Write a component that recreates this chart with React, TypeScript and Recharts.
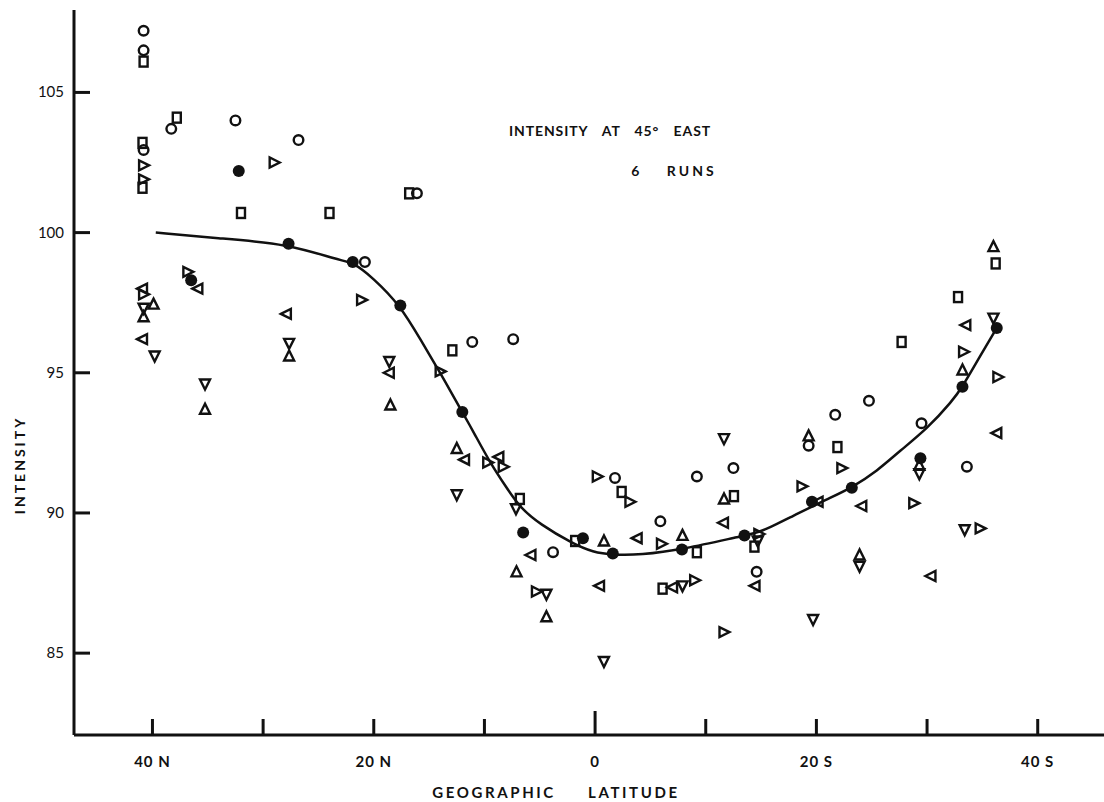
import React from "react";
import { ComposedChart, Scatter, Line, XAxis, YAxis } from "recharts";

// latitude: north negative, south positive
const latTicks = [-40, -30, -20, -10, 0, 10, 20, 30, 40];
const latLabels: Record<number, string> = { [-40]: "40 N", [-20]: "20 N", 0: "0", 20: "20 S", 40: "40 S" };
const intensityTicks = [85, 90, 95, 100, 105];

// fitted curve
const curveLat = [-39.7, -34.2, -27.7, -23.1, -21.9, -20.1, -17.6, -15.8, -14.0, -12.0, -11.0, -9.5, -8.0, -6.8, -5.0, -2.0, -0.2, 1.6, 4.1, 7.9, 13.5, 14.9, 17.9, 21.0, 23.2, 25.5, 27.5, 30.0, 32.3, 33.2, 34.8, 36.3];
const curveVal = [100.0, 99.8, 99.6, 99.0, 98.95, 98.4, 97.4, 96.2, 95.0, 93.6, 92.9, 91.8, 90.9, 90.2, 89.6, 88.9, 88.6, 88.5, 88.5, 88.7, 89.2, 89.3, 89.9, 90.5, 90.9, 91.5, 92.2, 93.0, 94.0, 94.5, 95.6, 96.6];

// mean of the 6 runs
const meanLat = [-36.5, -32.2, -27.7, -21.9, -17.6, -12.0, -6.5, -1.1, 1.6, 7.85, 13.5, 19.6, 23.2, 29.4, 33.2, 36.3];
const meanVal = [98.3, 102.2, 99.6, 98.95, 97.4, 93.6, 89.3, 89.1, 88.55, 88.7, 89.2, 90.4, 90.9, 91.95, 94.5, 96.6];

// run 1 (circles)
const circleLat = [-40.8, -40.8, -38.3, -32.5, -26.8, -40.8, -20.8, -16.1, -11.1, -7.4, -3.8, 1.8, 5.9, 9.2, 12.5, 14.6, 19.3, 21.7, 24.75, 29.5, 33.6];
const circleVal = [107.2, 106.5, 103.7, 104.0, 103.3, 102.95, 98.95, 101.4, 96.1, 96.2, 88.6, 91.25, 89.7, 91.3, 91.6, 87.9, 92.4, 93.5, 94.0, 93.2, 91.65];

// run 2 (squares)
const squareLat = [-40.8, -37.8, -40.9, -40.9, -32.0, -24.0, -16.8, -12.9, -6.8, -1.8, 2.4, 6.1, 9.2, 12.55, 14.4, 21.9, 27.7, 32.8, 36.2];
const squareVal = [106.1, 104.1, 103.2, 101.6, 100.7, 100.7, 101.4, 95.8, 90.5, 89.0, 90.75, 87.3, 88.6, 90.6, 88.8, 92.35, 96.1, 97.7, 98.9];

// run 3 (up triangles)
const upLat = [-39.9, -40.8, -35.25, -27.65, -18.5, -12.5, -7.1, -4.4, 0.8, 7.9, 11.65, 19.3, 23.9, 29.3, 33.2, 36.0];
const upVal = [97.45, 97.0, 93.7, 95.6, 93.85, 92.3, 87.9, 86.3, 89.0, 89.2, 90.5, 92.75, 88.5, 91.7, 95.1, 99.5];

// run 4 (down triangles)
const downLat = [-40.8, -39.8, -35.25, -27.65, -18.6, -12.5, -7.15, -4.4, 0.8, 7.9, 11.65, 14.7, 19.7, 23.9, 29.3, 33.4, 36.0];
const downVal = [97.3, 95.6, 94.6, 96.05, 95.4, 90.65, 90.15, 87.1, 84.7, 87.4, 92.65, 89.0, 86.2, 88.1, 91.4, 89.4, 96.95];

// run 5 (left triangles)
const leftLat = [-40.9, -40.9, -35.9, -27.9, -18.6, -11.8, -8.7, -5.8, 0.4, 3.8, 7.0, 11.6, 14.45, 20.15, 24.1, 30.35, 33.5, 36.3];
const leftVal = [98.0, 96.2, 98.0, 97.1, 95.0, 91.9, 92.0, 88.5, 87.4, 89.1, 87.35, 89.65, 87.4, 90.4, 90.25, 87.75, 96.7, 92.85];

// run 6 (right triangles)
const rightLat = [-40.8, -40.8, -40.8, -36.8, -29.0, -21.1, -14.0, -9.7, -8.3, -5.3, 0.2, 3.15, 6.0, 9.0, 11.65, 14.8, 18.7, 22.3, 28.8, 33.3, 34.8, 36.4];
const rightVal = [102.4, 101.9, 97.8, 98.6, 102.5, 97.6, 95.05, 91.8, 91.65, 87.2, 91.3, 90.4, 88.9, 87.6, 85.75, 89.25, 90.95, 91.6, 90.35, 95.75, 89.45, 94.85];

const zip = (lat: number[], val: number[]) => lat.map((l, i) => ({ lat: l, val: val[i] }));

const FONT = "Lato, 'DejaVu Sans', sans-serif";
const INK = "#111";
const AXIS_X = 74;
const AXIS_Y = 735;

const SW = 2.4;
const OpenCircle = (p: any) => <circle cx={p.cx} cy={p.cy} r={4.8} fill="none" stroke={INK} strokeWidth={SW} />;
const FilledCircle = (p: any) => <circle cx={p.cx} cy={p.cy} r={6} fill={INK} />;
const Square = (p: any) => <rect x={p.cx - 4} y={p.cy - 5} width={8} height={10} fill="none" stroke={INK} strokeWidth={SW} />;
const tri = (pts: number[][]) => (p: any) => (
  <polygon
    points={pts.map(([dx, dy]) => `${p.cx + dx},${p.cy + dy}`).join(" ")}
    fill="none"
    stroke={INK}
    strokeWidth={SW}
  />
);
const UpTri = tri([[0, -5.5], [-5, 4.5], [5, 4.5]]);
const DownTri = tri([[0, 5.5], [-5, -4.5], [5, -4.5]]);
const LeftTri = tri([[-5.5, 0], [4.5, -5], [4.5, 5]]);
const RightTri = tri([[5.5, 0], [-4.5, -5], [-4.5, 5]]);

const XTick = (p: any) => {
  const v = p.payload.value;
  return (
    <g>
      <line x1={p.x} x2={p.x} y1={AXIS_Y} y2={AXIS_Y - (v === 0 ? 24 : 16)} stroke={INK} strokeWidth={3} />
      {latLabels[v] !== undefined && (
        <text x={p.x} y={AXIS_Y + 32} textAnchor="middle" fontFamily={FONT} fontSize={15} fontWeight={700} fill={INK} letterSpacing={1}>
          {latLabels[v]}
        </text>
      )}
    </g>
  );
};

const YTick = (p: any) => (
  <g>
    <line x1={AXIS_X} x2={AXIS_X + 16} y1={p.y} y2={p.y} stroke={INK} strokeWidth={3} />
    <text x={AXIS_X - 10} y={p.y + 5} textAnchor="end" fontFamily={FONT} fontSize={15} fill={INK}>
      {p.payload.value}
    </text>
  </g>
);

const textStyle: React.CSSProperties = {
  position: "absolute",
  fontFamily: FONT,
  fontSize: 14,
  fontWeight: 700,
  color: INK,
  letterSpacing: 0.9,
  whiteSpace: "nowrap",
  transform: "translate(-50%, -50%)",
};

export default function App() {
  return (
    <div style={{ position: "absolute", left: 0, top: 0, width: 1104, height: 802, background: "#fff", overflow: "hidden" }}>
      <style>{"html, body { margin: 0; overflow: hidden; }"}</style>
      <ComposedChart width={1104} height={802} margin={{ top: 10, right: 0, left: 0, bottom: 0 }}>
        <XAxis
          type="number"
          dataKey="lat"
          domain={[-47.09, 45.99]}
          allowDataOverflow
          ticks={latTicks}
          interval={0}
          height={67}
          tickLine={false}
          tick={<XTick />}
          axisLine={{ stroke: INK, strokeWidth: 3 }}
        />
        <YAxis
          type="number"
          dataKey="val"
          domain={[82.08, 107.94]}
          allowDataOverflow
          ticks={intensityTicks}
          interval={0}
          width={74}
          tickLine={false}
          tick={<YTick />}
          axisLine={{ stroke: INK, strokeWidth: 3 }}
        />
        <Line data={zip(curveLat, curveVal)} dataKey="val" type="basis" stroke={INK} strokeWidth={2.5} dot={false} isAnimationActive={false} />
        <Scatter data={zip(circleLat, circleVal)} dataKey="val" shape={OpenCircle} isAnimationActive={false} />
        <Scatter data={zip(squareLat, squareVal)} dataKey="val" shape={Square} isAnimationActive={false} />
        <Scatter data={zip(upLat, upVal)} dataKey="val" shape={UpTri} isAnimationActive={false} />
        <Scatter data={zip(downLat, downVal)} dataKey="val" shape={DownTri} isAnimationActive={false} />
        <Scatter data={zip(leftLat, leftVal)} dataKey="val" shape={LeftTri} isAnimationActive={false} />
        <Scatter data={zip(rightLat, rightVal)} dataKey="val" shape={RightTri} isAnimationActive={false} />
        <Scatter data={zip(meanLat, meanVal)} dataKey="val" shape={FilledCircle} isAnimationActive={false} />
      </ComposedChart>

      <div style={{ ...textStyle, left: 610, top: 130, wordSpacing: 10 }}>INTENSITY AT 45° EAST</div>
      <div style={{ ...textStyle, left: 674, top: 170, letterSpacing: 3, wordSpacing: 18 }}>6 RUNS</div>
      <div style={{ ...textStyle, left: 556, top: 792, fontSize: 15, letterSpacing: 2.6, wordSpacing: 26 }}>GEOGRAPHIC LATITUDE</div>
      <div style={{ ...textStyle, left: 19, top: 465, fontSize: 14, letterSpacing: 3, transform: "translate(-50%, -50%) rotate(-90deg)" }}>INTENSITY</div>
    </div>
  );
}
